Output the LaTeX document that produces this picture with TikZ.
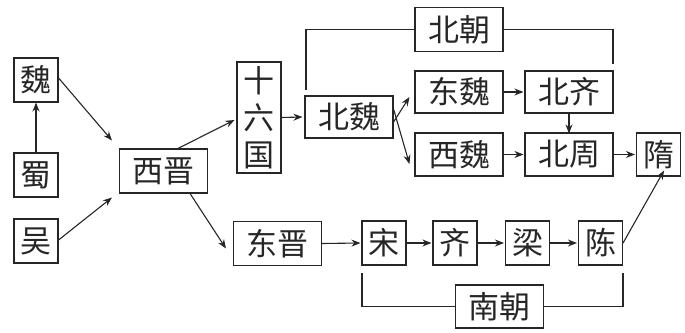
\documentclass[tikz,border=0pt]{standalone}
\usepackage{fontspec}
\newfontfamily\cjk{Noto Sans CJK SC}
\usetikzlibrary{arrows.meta}
\definecolor{ink}{HTML}{262626}
\tikzset{
  box/.style={draw=ink, line width=1.1pt, inner sep=0pt, minimum height=44pt, minimum width=44pt, font=\cjk\fontsize{31}{31}\selectfont, text=ink},
  wbox/.style={box, minimum width=88pt},
  arr/.style={draw=ink, line width=1.1pt, -{Stealth[length=9pt,width=7pt]}},
  brk/.style={draw=ink, line width=1.1pt}
}
\begin{document}
\begin{tikzpicture}[x=1pt,y=-1pt]
\useasboundingbox (0,0) rectangle (685,332);
\node[box] (wei) at (36,80) {魏};
\node[box] (shu) at (36,175) {蜀};
\node[box] (wu) at (36,241) {吴};
\node[wbox] (xijin) at (163.5,171) {西晋};
\node[box, minimum height=111pt, align=center, font=\cjk\fontsize{31}{37}\selectfont] (sld) at (259,117.5) {十\\六\\国};
\node[wbox, minimum height=42pt] (beiwei) at (349,117) {北魏};
\node[wbox] (beichao) at (459,29.5) {北朝};
\node[wbox, minimum height=42pt] (dongwei) at (459,92) {东魏};
\node[wbox, minimum height=42pt] (beiqi) at (569,92) {北齐};
\node[wbox, minimum height=43pt] (xiwei) at (459,154.5) {西魏};
\node[wbox, minimum height=43pt] (beizhou) at (569,154.5) {北周};
\node[box, minimum height=43pt] (sui) at (658.5,154.5) {隋};
\node[wbox] (dongjin) at (277.5,243.5) {东晋};
\node[box] (song) at (384,243) {宋};
\node[box] (qi) at (455,243) {齐};
\node[box] (liang) at (527.5,243) {梁};
\node[box] (chen) at (600.5,243) {陈};
\node[wbox, minimum height=43pt] (nanchao) at (499.5,306.5) {南朝};
% arrows
\draw[arr] (shu.north) -- (wei.south);
\draw[arr] ([yshift=2]wei.east) -- ([xshift=-7,yshift=8]xijin.north west);
\draw[arr] ([yshift=1]wu.east) -- ([xshift=-7,yshift=-4]xijin.south west);
\draw[arr] ([xshift=14.5]xijin.north) -- ([xshift=-2,yshift=-2.5]sld.west);
\draw[arr] ([xshift=-18]xijin.south east) -- ([xshift=-7,yshift=-5]dongjin.west);
\draw[arr] (sld.east) -- ([xshift=-2]beiwei.west);
\draw[arr] ([yshift=-5]beiwei.east) -- ([xshift=-5,yshift=-5]dongwei.west);
\draw[arr] ([yshift=8]beiwei.east) -- ([xshift=-5,yshift=-9.5]xiwei.west);
\draw[arr] (dongwei.east) -- ([xshift=-1]beiqi.west);
\draw[arr] (beiqi.south) -- ([yshift=-1]beizhou.north);
\draw[arr] (xiwei.east) -- ([xshift=-1]beizhou.west);
\draw[arr] (beizhou.east) -- ([xshift=-1]sui.west);
\draw[arr] (dongjin.east) -- ([xshift=-1]song.west);
\draw[arr] (song.east) -- ([xshift=-1]qi.west);
\draw[arr] (qi.east) -- ([xshift=-1]liang.west);
\draw[arr] (liang.east) -- ([xshift=-1]chen.west);
\draw[arr] (chen.east) -- ([xshift=5.5,yshift=6]sui.south);
% brackets
\coordinate (bn1) at (306,90);
\coordinate (bn2) at (613,64);
\draw[brk] (bn1) |- (beichao.west);
\draw[brk] (beichao.east) -| (bn2);
\coordinate (sn1) at (362,273);
\coordinate (sn2) at (623,273);
\draw[brk] (sn1) |- (nanchao.west);
\draw[brk] (nanchao.east) -| (sn2);
\end{tikzpicture}
\end{document}
